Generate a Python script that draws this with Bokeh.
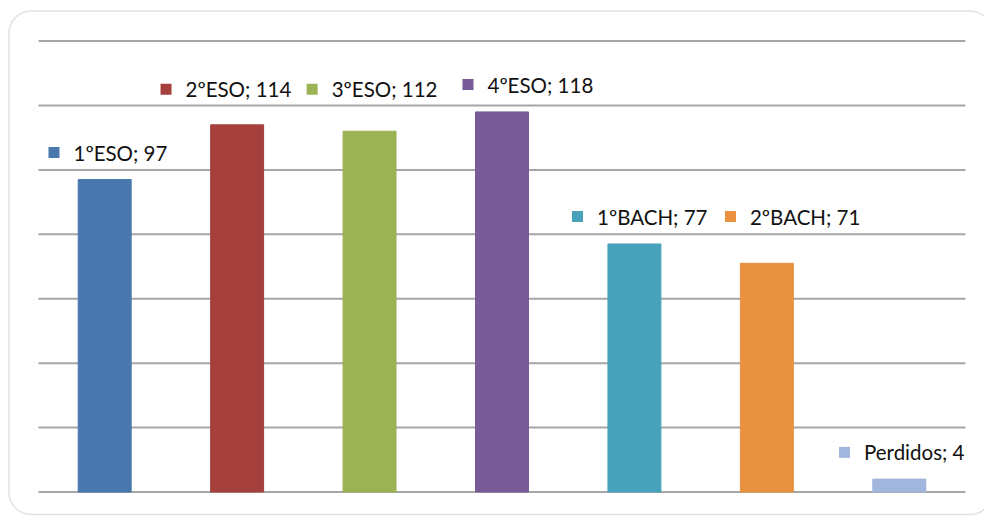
from bokeh.plotting import figure
from bokeh.models import Range1d, BoxAnnotation, ColumnDataSource
from bokeh.core.properties import value
from bokeh.embed import file_html
from bokeh.resources import INLINE

# ---- data ----
categories = ["1ºESO", "2ºESO", "3ºESO", "4ºESO", "1ºBACH", "2ºBACH", "Perdidos"]
counts = [97, 114, 112, 118, 77, 71, 4]
colors = ["#4a78ae", "#a5403d", "#9bb255", "#765b96", "#48a3ba", "#e8913f", "#a2b5dc"]
grid_ticks = [0, 20, 40, 60, 80, 100, 120, 140]

# ---- label layout (Excel-style manually placed data labels) ----
label_dx_px = [-50.7, -71.1, -57.4, -34.0, -56.9, -36.4, -54.8]   # square centre offset from bar centre
label_y = [105.4, 125.0, 125.0, 126.5, 85.5, 85.5, 12.3]          # vertical anchor in value units

W, H = 984, 516
cat_px = 132.43
n = len(categories)

p = figure(width=W, height=H, output_backend="svg", toolbar_location=None,
           x_axis_location=None, y_axis_location=None, min_border=0,
           x_range=Range1d(-0.7868, 6.6435), y_range=Range1d(-7.606, 152.59))
p.grid.visible = False
p.outline_line_color = None
p.background_fill_color = "white"
p.border_fill_color = "white"

# rounded outer border
p.add_layout(BoxAnnotation(left=-0.7226, right=6.70, top=149.3, bottom=-6.98,
                           fill_alpha=0, line_color="#9c9c9c", line_width=1.5,
                           border_radius=22, level="underlay"))

# horizontal grid lines across the plot area
p.segment(x0=[-0.5] * len(grid_ticks), x1=[n - 0.5] * len(grid_ticks),
          y0=grid_ticks, y1=grid_ticks, line_color="#a6a6a6", line_width=2)

idx = list(range(n))
src = ColumnDataSource(dict(x=idx, top=counts, color=colors))
p.vbar(x="x", top="top", bottom=0, width=0.4, fill_color="color",
       line_color="color", source=src)

# data labels: coloured square + "name; value"
sq_x = [i + dx / cat_px for i, dx in zip(idx, label_dx_px)]
texts = [f"{c}; {v}" for c, v in zip(categories, counts)]
lsrc = ColumnDataSource(dict(x=sq_x, y=label_y, color=colors, text=texts))
p.rect(x="x", y="y", width=11, height=11, width_units="screen", height_units="screen",
       fill_color="color", line_color=None, source=lsrc)
p.text(x="x", y="y", text="text", x_offset=19.5, text_baseline="middle",
       text_align="left", text_font=value("Lato"), text_font_size="20.5px",
       text_color="#111111", source=lsrc)

open("out.html", "w").write(file_html(p, INLINE))
